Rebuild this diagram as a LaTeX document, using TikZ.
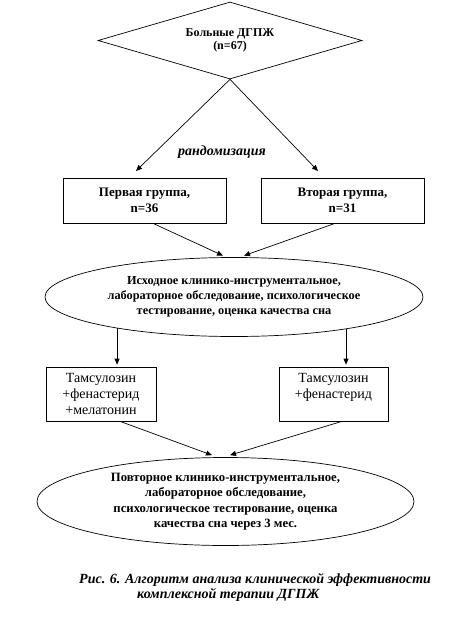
\documentclass[tikz,border=0pt]{standalone}
\usepackage{fontspec}
\setmainfont{Liberation Serif}
\usetikzlibrary{shapes.geometric,arrows.meta}
\tikzset{
  arr/.style={draw, line width=0.7pt, -{Triangle[length=6pt,width=5pt]}},
  box/.style={draw, line width=0.7pt, rectangle, inner sep=0pt, align=center},
  oval/.style={draw, line width=0.7pt, ellipse, inner sep=0pt, align=center},
}
\begin{document}
\begin{tikzpicture}[x=1pt,y=-1pt]
\useasboundingbox (0,0) rectangle (469,629);
\node[draw, line width=0.7pt, diamond, aspect=3.4, inner sep=0pt,
  minimum width=264pt, minimum height=77pt, align=center,
  font=\bfseries\fontsize{12}{13.5}\selectfont] (dia) at (230,40.5)
  {Больные ДГПЖ\\(n=67)};
\coordinate (t1) at (136,171);
\coordinate (t2) at (318,171);
\draw[arr] (dia.south) -- (t1);
\draw[arr] (dia.south) -- (t2);
\node[font=\bfseries\itshape\fontsize{14}{16}\selectfont] (rnd) at (222,152) {рандомизация};
\node[box, minimum width=163pt, minimum height=45pt,
  font=\bfseries\fontsize{13}{16}\selectfont] (b1) at (144.5,200.5)
  {Первая группа,\\n=36};
\node[box, minimum width=163pt, minimum height=45pt,
  font=\bfseries\fontsize{13}{16}\selectfont] (b2) at (342.5,200.5)
  {Вторая группа,\\n=31};
\node[oval, minimum width=378pt, minimum height=79pt,
  font=\bfseries\fontsize{12.3}{15}\selectfont] (e1) at (234,297)
  {Исходное клинико-инструментальное,\\лабораторное обследование, психологическое\\тестирование, оценка качества сна};
\draw[arr] ([xshift=8.5pt]b1.south) -- ([xshift=-11pt,yshift=1.5pt]e1.north);
\draw[arr] ([xshift=-7.5pt]b2.south) -- ([xshift=10pt,yshift=1.5pt]e1.north);
\node[box, minimum width=110pt, minimum height=54pt,
  font=\fontsize{14}{16}\selectfont] (c1) at (101,394)
  {Тамсулозин\\+фенастерид\\+мелатонин};
\node[box, minimum width=109pt, minimum height=54pt,
  font=\fontsize{14}{16}\selectfont] (c2) at (333.5,394)
  {Тамсулозин\\+фенастерид\\\mbox{}};
\draw[arr, shorten >=2pt] (e1.195) -- (e1.195 |- c1.north);
\draw[arr, shorten >=2pt] (e1.-16.5) -- (e1.-16.5 |- c2.north);
\node[oval, minimum width=377pt, minimum height=88pt,
  font=\bfseries\fontsize{12.7}{15.5}\selectfont] (e2) at (225.5,501.5)
  {Повторное клинико-инструментальное,\\лабораторное обследование,\\психологическое тестирование, оценка\\качества сна через 3 мес.};
\draw[arr] ([xshift=19pt]c1.south) -- ([xshift=-13.5pt,yshift=2pt]e2.north);
\draw[arr] ([xshift=8.5pt]c2.south) -- ([xshift=4.5pt,yshift=2pt]e2.north);
\node[anchor=base west, inner sep=0pt, font=\bfseries\itshape\fontsize{14}{15}\selectfont] (cap1) at (79,583)
  {Рис. 6. Алгоритм анализа клинической эффективности};
\node[anchor=base west, inner sep=0pt, font=\bfseries\itshape\fontsize{14}{15}\selectfont] (cap2) at (137,598)
  {комплексной терапии ДГПЖ};
\end{tikzpicture}
\end{document}
